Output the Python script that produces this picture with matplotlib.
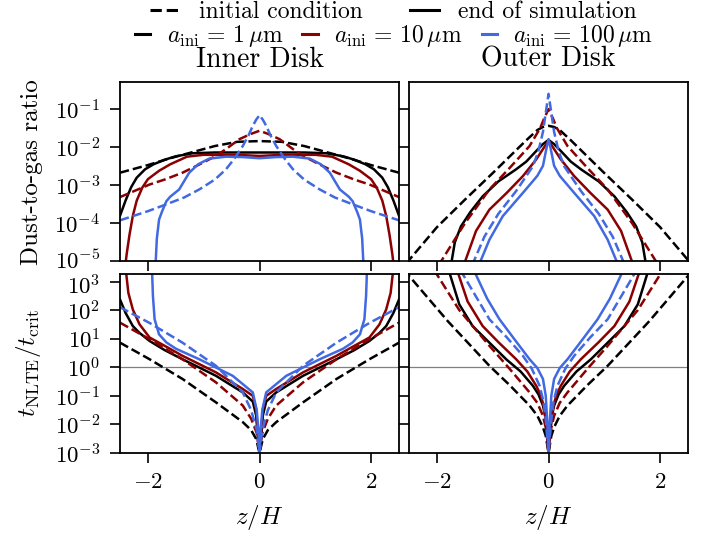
import numpy as np
import matplotlib.pyplot as plt
import matplotlib.transforms as mtransforms
from matplotlib.lines import Line2D

plt.rcParams["font.family"] = "serif"
plt.rcParams["font.serif"] = ["cmr10"]
plt.rcParams["mathtext.fontset"] = "cm"
plt.rcParams["axes.formatter.use_mathtext"] = True
plt.rcParams["font.size"] = 17

SIZES = ["1", "10", "100"]
COLORS = ["black", "#8b0000", "#4169e1"]

# half profiles (z >= 0, log10 of value); the curves are mirrored in z
# inner disk, dust-to-gas ratio
IN_D2G_INI_1 = ([0, 0.4, 0.8, 1.2, 1.6, 2.0, 2.5], [-1.84, -1.86, -1.97, -2.13, -2.29, -2.47, -2.67])
IN_D2G_END_1 = ([0, 0.8, 1.2, 1.5, 1.7, 1.9, 2.05, 2.2, 2.3, 2.4, 2.5],
                [-2.14, -2.14, -2.16, -2.24, -2.33, -2.45, -2.58, -2.8, -3.05, -3.4, -3.8])
IN_D2G_INI_10 = ([0, 0.15, 0.36, 0.6, 0.78, 1.1, 1.38, 1.7, 1.97, 2.5],
                 [-1.57, -1.65, -1.79, -2.05, -2.23, -2.47, -2.67, -2.85, -2.98, -3.31])
IN_D2G_END_10 = ([0, 0.3, 1.0, 1.3, 1.6, 1.8, 2.0, 2.1, 2.2, 2.27, 2.33, 2.38, 2.42],
                 [-2.23, -2.21, -2.20, -2.25, -2.45, -2.62, -2.84, -3.06, -3.4, -3.8, -4.3, -4.8, -5.3])
IN_D2G_INI_100 = ([0, 0.06, 0.12, 0.2, 0.3, 0.45, 0.6, 0.8, 1.08, 1.35, 1.67, 2.0, 2.5],
                  [-1.16, -1.28, -1.44, -1.7, -1.97, -2.3, -2.58, -2.85, -3.11, -3.32, -3.50, -3.68, -3.92])
IN_D2G_END_100 = ([0, 0.3, 0.6, 0.9, 1.1, 1.26, 1.44, 1.6, 1.67, 1.75, 1.8, 1.84, 1.87],
                  [-2.29, -2.26, -2.25, -2.30, -2.45, -2.67, -3.11, -3.3, -3.42, -3.7, -3.9, -4.4, -5.3])

# outer disk, dust-to-gas ratio
OUT_D2G_INI_1 = ([0, 0.1, 0.2, 0.4, 1.0, 1.5, 2.0, 2.55], [-1.44, -1.47, -1.55, -1.82, -2.68, -3.38, -4.1, -5.05])
OUT_D2G_END_1 = ([0, 0.1, 0.22, 0.4, 0.58, 0.9, 1.18, 1.4, 1.57, 1.68, 1.76],
                 [-1.81, -1.92, -2.10, -2.38, -2.58, -2.9, -3.29, -3.7, -4.08, -4.5, -5.2])
OUT_D2G_INI_10 = ([0, 0.08, 0.15, 0.34, 0.7, 1.06, 1.5, 1.97], [-1.0, -1.25, -1.5, -1.97, -2.55, -3.11, -4.0, -5.1])
OUT_D2G_END_10 = ([0, 0.1, 0.22, 0.46, 0.75, 1.06, 1.3, 1.52], [-1.83, -2.05, -2.32, -2.76, -3.2, -3.64, -4.2, -5.1])
OUT_D2G_INI_100 = ([0, 0.05, 0.10, 0.18, 0.28, 0.58, 0.9, 1.15, 1.37],
                   [-0.60, -1.1, -1.6, -2.1, -2.5, -3.15, -3.75, -4.35, -5.1])
OUT_D2G_END_100 = ([0, 0.04, 0.10, 0.2, 0.28, 0.46, 0.82, 1.06, 1.25],
                   [-1.79, -2.05, -2.49, -2.75, -2.89, -3.20, -3.81, -4.43, -5.1])

# inner disk, t_NLTE / t_crit
IN_T_INI_1 = ([0, 0.06, 0.15, 0.3, 0.78, 1.38, 1.97, 2.5], [-3.0, -2.51, -2.2, -1.92, -1.23, -0.41, 0.28, 0.86])
IN_T_END_1 = ([0, 0.03, 0.06, 0.12, 0.3, 0.78, 1.38, 1.7, 1.97, 2.15, 2.27, 2.4, 2.5],
              [-3.0, -2.4, -1.69, -1.2, -0.88, -0.30, 0.28, 0.6, 0.92, 1.2, 1.44, 1.9, 2.37])
IN_T_INI_10 = ([0, 0.05, 0.15, 0.3, 0.78, 1.38, 1.97, 2.5], [-3.0, -2.3, -1.8, -1.34, -0.53, 0.28, 0.98, 1.56])
IN_T_END_10 = ([0, 0.03, 0.06, 0.12, 0.3, 0.78, 1.38, 1.7, 1.97, 2.15, 2.27, 2.35, 2.39, 2.42],
               [-3.0, -2.3, -1.46, -1.0, -0.76, -0.18, 0.40, 0.75, 1.04, 1.5, 2.02, 2.6, 3.3, 3.6])
IN_T_INI_100 = ([0, 0.05, 0.15, 0.3, 0.78, 1.38, 1.97, 2.5], [-3.0, -2.2, -1.5, -0.88, 0.05, 0.86, 1.55, 2.1])
IN_T_END_100 = ([0, 0.02, 0.05, 0.12, 0.48, 1.08, 1.5, 1.67, 1.8, 1.88, 1.91, 1.93],
                [-3.0, -2.2, -1.5, -0.88, -0.30, 0.28, 0.65, 0.87, 1.15, 1.68, 2.5, 3.6])

# outer disk, t_NLTE / t_crit
OUT_T_INI_1 = ([0, 0.05, 0.1, 0.2, 0.34, 0.7, 1.06, 1.8, 2.47, 2.6],
               [-3.0, -2.4, -2.1, -1.7, -1.34, -0.62, 0.05, 1.6, 3.13, 3.4])
OUT_T_END_1 = ([0, 0.03, 0.06, 0.10, 0.18, 0.28, 0.5, 0.76, 1.06, 1.36, 1.6, 1.79],
               [-3.0, -2.3, -1.7, -1.34, -0.95, -0.65, -0.15, 0.28, 0.86, 1.44, 2.2, 3.4])
OUT_T_INI_10 = ([0, 0.04, 0.1, 0.2, 0.34, 0.7, 1.06, 1.6, 2.05], [-3.0, -2.2, -1.7, -1.25, -0.88, -0.05, 0.75, 2.0, 3.4])
OUT_T_END_10 = ([0, 0.03, 0.08, 0.14, 0.22, 0.38, 0.58, 0.9, 1.18, 1.45, 1.64],
                [-3.0, -2.2, -1.4, -0.98, -0.65, -0.15, 0.28, 0.88, 1.44, 2.3, 3.4])
OUT_T_INI_100 = ([0, 0.04, 0.09, 0.16, 0.3, 0.46, 0.75, 1.06, 1.58], [-3.0, -2.0, -1.2, -0.65, -0.05, 0.40, 1.05, 1.68, 3.4])
OUT_T_END_100 = ([0, 0.02, 0.05, 0.10, 0.2, 0.34, 0.6, 0.88, 1.1, 1.34],
                 [-3.0, -2.0, -1.0, -0.41, -0.03, 0.28, 0.95, 1.68, 2.4, 3.4])

PANELS = [
    [(IN_D2G_INI_1, IN_D2G_END_1), (IN_D2G_INI_10, IN_D2G_END_10), (IN_D2G_INI_100, IN_D2G_END_100)],
    [(OUT_D2G_INI_1, OUT_D2G_END_1), (OUT_D2G_INI_10, OUT_D2G_END_10), (OUT_D2G_INI_100, OUT_D2G_END_100)],
    [(IN_T_INI_1, IN_T_END_1), (IN_T_INI_10, IN_T_END_10), (IN_T_INI_100, IN_T_END_100)],
    [(OUT_T_INI_1, OUT_T_END_1), (OUT_T_INI_10, OUT_T_END_10), (OUT_T_INI_100, OUT_T_END_100)],
]


def mirror(profile):
    z, v = np.asarray(profile[0], float), np.asarray(profile[1], float)
    zz = np.concatenate([-z[::-1], z[1:]])
    vv = np.concatenate([v[::-1], v[1:]])
    return zz, 10.0 ** vv


fig, axes = plt.subplots(2, 2, figsize=(7.08, 5.36), dpi=100, sharex=True, sharey="row")
fig.subplots_adjust(left=0.1695, right=0.9718, top=0.847, bottom=0.1549, wspace=0.036, hspace=0.067)

for ax, curves in zip(axes.flat, PANELS):
    for (ini, end), col in zip(curves, COLORS):
        ax.plot(*mirror(ini), color=col, ls="--", lw=1.8)
        ax.plot(*mirror(end), color=col, ls="-", lw=1.8)
    ax.set_yscale("log")
    ax.set_xlim(-2.5, 2.5)
    ax.tick_params(direction="out", length=7, width=1.2, pad=7, labelsize=16.5)
    for sp in ax.spines.values():
        sp.set_linewidth(1.3)

for ax in axes[1]:
    ax.axhline(1.0, color="gray", lw=0.9, zorder=0)

axes[0, 0].set_ylim(1e-5, 10 ** -0.29)
axes[1, 0].set_ylim(1e-3, 10 ** 3.28)
axes[0, 0].set_yticks([1e-5, 1e-4, 1e-3, 1e-2, 1e-1])
axes[1, 0].set_yticks([1e-3, 1e-2, 1e-1, 1e0, 1e1, 1e2, 1e3])
for ax in axes.flat:
    ax.minorticks_off()
axes[0, 0].set_xticks([-2, 0, 2])

# the 1e-5 and 1e3 labels sit close together, nudge them apart a little
fig.canvas.draw()
up = mtransforms.ScaledTranslation(0, 2 / 72, fig.dpi_scale_trans)
down = mtransforms.ScaledTranslation(0, -2 / 72, fig.dpi_scale_trans)
lab_top = axes[0, 0].yaxis.get_majorticklabels()[0]
lab_top.set_transform(lab_top.get_transform() + up)
lab_bot = axes[1, 0].yaxis.get_majorticklabels()[-1]
lab_bot.set_transform(lab_bot.get_transform() + down)

axes[0, 0].set_title("Inner Disk", fontsize=20, pad=11)
axes[0, 1].set_title("Outer Disk", fontsize=20, pad=11)
axes[0, 0].set_ylabel("Dust-to-gas ratio", fontsize=18, labelpad=8)
axes[1, 0].set_ylabel(r"$t_{\rm NLTE}/t_{\rm crit}$", fontsize=18, labelpad=8)
for ax in axes[1]:
    ax.set_xlabel(r"$z/H$", fontsize=18, labelpad=8)
fig.align_ylabels(axes[:, 0])

h1 = [Line2D([], [], color="black", ls="--", lw=2.2), Line2D([], [], color="black", ls="-", lw=2.2)]
fig.legend(h1, ["initial condition", "end of simulation"], loc="center", bbox_to_anchor=(0.556, 0.978),
           ncol=2, frameon=False, fontsize=17, handlelength=1.25, handletextpad=0.8, columnspacing=2.0,
           borderpad=0, borderaxespad=0)
h2 = [Line2D([], [], color=c, lw=2.2) for c in COLORS]
lab2 = [r"$a_{\rm ini}\,=\,%s\,\mu$m" % s for s in SIZES]
fig.legend(h2, lab2, loc="center", bbox_to_anchor=(0.557, 0.933), ncol=3, frameon=False, fontsize=17,
           handlelength=0.65, handletextpad=0.7, columnspacing=0.8, borderpad=0, borderaxespad=0)

fig.savefig("out.png", dpi=100)
